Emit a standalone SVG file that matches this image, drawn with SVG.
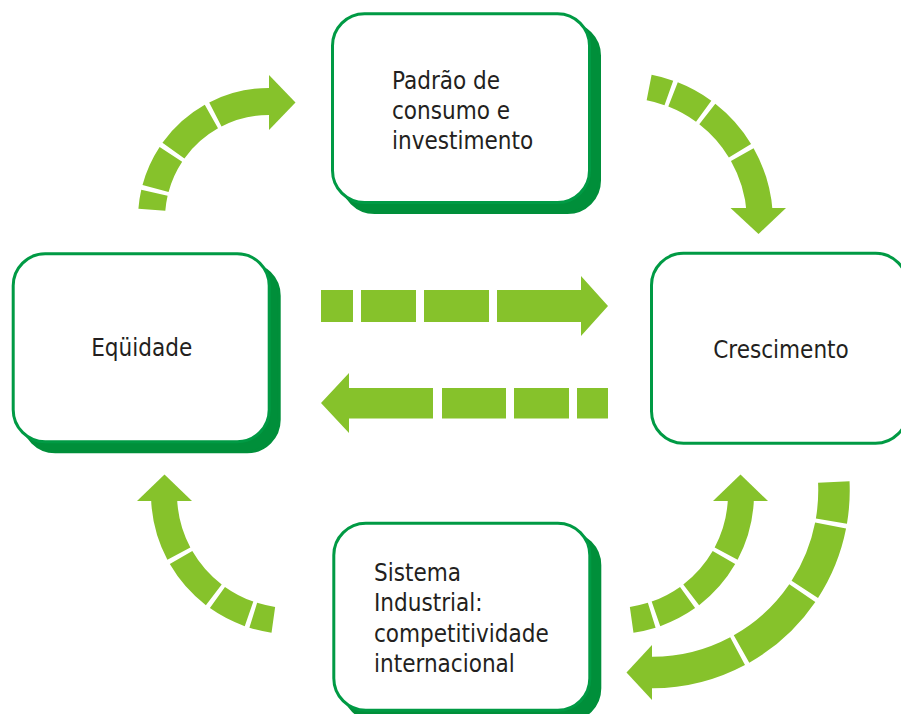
<svg xmlns="http://www.w3.org/2000/svg" width="901" height="714" viewBox="0 0 901 714">
  <style>
    .box { fill: #ffffff; stroke: #009a44; stroke-width: 3; }
    .shadow { fill: #008f3a; stroke: #008f3a; stroke-width: 3; }
    .label { font-family: "DejaVu Sans Condensed", "DejaVu Sans", sans-serif; font-size: 24px; fill: #231f20; }
    .mid { text-anchor: middle; }
    .flow { fill: none; stroke: #86c22b; stroke-linecap: butt; }
    .fill { fill: #86c22b; }
  </style>

  <rect width="901" height="714" fill="#ffffff"/>

  <!-- cycle connectors -->
  <g id="connectors">
    <!-- upper left: Equidade -> Padrao de consumo -->
    <path class="flow" stroke-width="27" stroke-dasharray="17.2 4.5 37.5 4.5 51.3 4.5 300"
          d="M151.86 209.78 A117.5 117.5 0 0 1 273.1 101.57"/>
    <polygon class="fill" points="269,75 295.5,102.5 269,130"/>

    <!-- upper right: Padrao de consumo -> Crescimento -->
    <path class="flow" stroke-width="26" stroke-dasharray="20.45 4.5 35 4.5 49.3 4.5 300"
          d="M649.14 87.52 A137 137 0 0 1 759.67 212.44"/>
    <polygon class="fill" points="730.5,208 786,208 758.5,234"/>

    <!-- middle: Equidade -> Crescimento -->
    <rect class="fill" x="321" y="290" width="32" height="32"/>
    <rect class="fill" x="361" y="290" width="55" height="32"/>
    <rect class="fill" x="424" y="290" width="65" height="32"/>
    <polygon class="fill" points="497,290 581,290 581,276 608,306 581,336 581,322 497,322"/>

    <!-- middle: Crescimento -> Equidade -->
    <rect class="fill" x="577" y="388" width="31" height="30.5"/>
    <rect class="fill" x="514" y="388" width="55" height="30.5"/>
    <rect class="fill" x="442" y="388" width="64" height="30.5"/>
    <polygon class="fill" points="433,388 349,388 349,373 321,403 349,433 349,418.5 433,418.5"/>

    <!-- lower left: Sistema Industrial -> Equidade -->
    <path class="flow" stroke-width="26" stroke-dasharray="20.58 4.5 35.62 4.5 49.81 4.5 300"
          d="M273.33 619.76 A127 127 0 0 1 164.03 496.66"/>
    <polygon class="fill" points="137,501 192,501 164.5,474.5"/>

    <!-- lower right inner: Sistema Industrial -> Crescimento -->
    <path class="flow" stroke-width="26" stroke-dasharray="20.58 4.5 35.62 4.5 49.81 4.5 300"
          d="M631.67 619.76 A127 127 0 0 0 740.97 496.66"/>
    <polygon class="fill" points="713,501 768,501 740.5,474.5"/>

    <!-- lower right outer: Crescimento -> Sistema Industrial -->
    <path class="flow" stroke-width="31.5" stroke-dasharray="39.36 4.5 69.2 4.5 83.17 4.5 400"
          d="M833.8 481.93 A182 182 0 0 1 645.65 672.39"/>
    <polygon class="fill" points="652,645 652,700 626.5,672.5"/>
  </g>

  <!-- nodes -->
  <g id="padrao">
    <rect class="shadow" x="342.5" y="23.8" width="257" height="188.7" rx="32"/>
    <rect class="box" x="332.5" y="13.8" width="257" height="188.7" rx="32"/>
    <text class="label" x="392" y="89">Padrão de</text>
    <text class="label" x="392" y="119">consumo e</text>
    <text class="label" x="392" y="149">investimento</text>
  </g>

  <g id="equidade">
    <rect class="shadow" x="23.2" y="263.8" width="256" height="188" rx="32"/>
    <rect class="box" x="13.2" y="253.8" width="256" height="188" rx="32"/>
    <text class="label mid" x="141.7" y="355.7">Eqüidade</text>
  </g>

  <g id="crescimento">
    <rect class="box" x="651.5" y="253.3" width="256" height="190" rx="32"/>
    <text class="label mid" x="781" y="357.5">Crescimento</text>
  </g>

  <g id="sistema">
    <rect class="shadow" x="343.8" y="533.2" width="256" height="187" rx="32"/>
    <rect class="box" x="333.8" y="523.2" width="256" height="187" rx="32"/>
    <text class="label" x="374" y="581">Sistema</text>
    <text class="label" x="374" y="611">Industrial:</text>
    <text class="label" x="374" y="641.5">competitividade</text>
    <text class="label" x="374" y="672">internacional</text>
  </g>
</svg>
